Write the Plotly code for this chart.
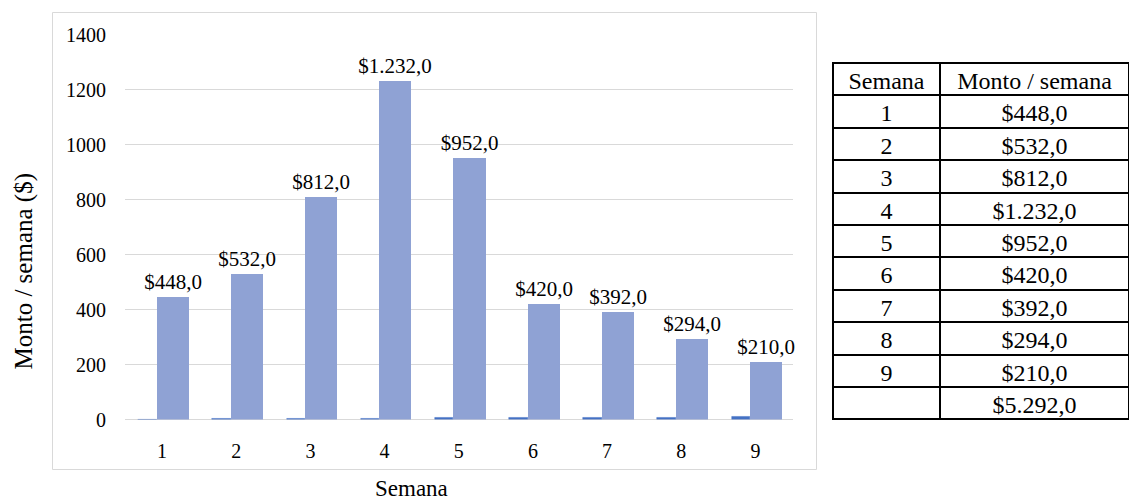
import plotly.graph_objects as go

# Weekly amounts
semanas = [1, 2, 3, 4, 5, 6, 7, 8, 9]
montos = [448, 532, 812, 1232, 952, 420, 392, 294, 210]
y_ticks = [0, 200, 400, 600, 800, 1000, 1200, 1400]

W, H = 1129, 502
FONT = "Liberation Serif"


def px_x(p):
    return p / W


def px_y(p):
    return 1 - p / H


def pesos(v):
    s = f"{v:,.1f}"
    return "$" + s.replace(",", "X").replace(".", ",").replace("X", ".")


cats = [str(s) for s in semanas]

fig = go.Figure()

# Week-number series (renders as a thin line on the baseline)
fig.add_trace(go.Bar(
    x=cats, y=semanas,
    marker=dict(color="#4472C4", line=dict(color="#4472C4", width=0.5)),
    offset=-0.321, width=0.248,
    hoverinfo="skip", showlegend=False,
))

# Amount per week
fig.add_trace(go.Bar(
    x=cats, y=montos,
    marker=dict(color="#8FA2D4", line=dict(width=0)),
    offset=-0.073, width=0.435,
    texttemplate="$%{y:,.1f}", textposition="outside",
    textfont=dict(family=FONT, size=21, color="#000000"),
    constraintext="none", cliponaxis=False,
    showlegend=False,
))

# Summary table
col_semana = [str(s) for s in semanas] + [""]
col_monto = [pesos(v) for v in montos] + [pesos(sum(montos))]
row_h = 32.4
fig.add_trace(go.Table(
    domain=dict(x=[px_x(833), 1.0], y=[px_y(425), px_y(63)]),
    columnwidth=[107, 189],
    header=dict(
        values=["Semana", "Monto / semana"],
        align="center", height=row_h,
        fill=dict(color="white"),
        line=dict(color="black", width=2),
        font=dict(family=FONT, size=24, color="black"),
    ),
    cells=dict(
        values=[col_semana, col_monto],
        align="center", height=row_h,
        fill=dict(color="white"),
        line=dict(color="black", width=2),
        font=dict(family=FONT, size=24, color="black"),
    ),
))

fig.update_layout(
    width=W, height=H,
    margin=dict(l=0, r=0, t=0, b=0, autoexpand=False),
    paper_bgcolor="white", plot_bgcolor="white",
    separators=",.",
    bargap=0, barmode="overlay",
    font=dict(family=FONT, size=20, color="#000000"),
    xaxis=dict(
        domain=[px_x(125), px_x(792.5)],
        type="category", range=[-0.5, 8.5],
        showgrid=False, showline=False, zeroline=False,
        ticks="outside", ticklen=13, tickcolor="rgba(0,0,0,0)",
        tickfont=dict(family=FONT, size=20, color="#000000"),
    ),
    yaxis=dict(
        domain=[px_y(419.5), px_y(34.7)],
        range=[0, 1400], tickvals=y_ticks,
        showgrid=True, gridcolor="#D9D9D9", gridwidth=1,
        zeroline=True, zerolinecolor="#D9D9D9", zerolinewidth=1,
        showline=False,
        ticks="outside", ticklen=14, tickcolor="rgba(0,0,0,0)",
        tickfont=dict(family=FONT, size=20, color="#000000"),
    ),
    shapes=[dict(
        type="rect", xref="paper", yref="paper",
        x0=px_x(52.5), x1=px_x(816.5), y0=px_y(469.5), y1=px_y(12.5),
        line=dict(color="#D9D9D9", width=1), fillcolor="rgba(0,0,0,0)",
        layer="below",
    )],
    annotations=[
        dict(text="Semana", xref="paper", yref="paper",
             x=px_x(411.5), y=0, xanchor="center", yanchor="bottom",
             borderpad=0, showarrow=False,
             font=dict(family=FONT, size=23, color="#000000")),
        dict(text="Monto / semana ($)", xref="paper", yref="paper",
             x=px_x(23), y=px_y(271.5), xanchor="center", yanchor="middle",
             textangle=-90, showarrow=False,
             font=dict(family=FONT, size=25, color="#000000")),
    ],
)

fig.write_html("out.html")
